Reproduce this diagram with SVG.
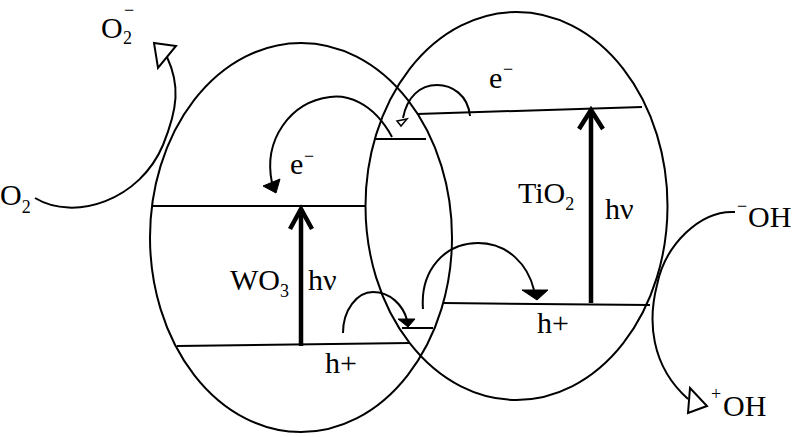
<svg xmlns="http://www.w3.org/2000/svg" width="800" height="437" viewBox="0 0 800 437">
<style>
.sh{fill:none;stroke:#000;stroke-width:2}
.ln{fill:none;stroke:#000;stroke-width:2}
.hv{fill:none;stroke:#000;stroke-width:4.5}
.t{font-family:"Liberation Serif","Times New Roman",serif;font-size:30px;fill:#000}
.s{font-size:18px}
.open{fill:#fff;stroke:#000;stroke-width:2;stroke-linejoin:miter}
.fill{fill:#000;stroke:#000;stroke-width:1}
</style>
<rect width="800" height="437" fill="#fff"/>
<g id="wo3">
<ellipse class="sh" cx="301" cy="237.5" rx="151" ry="194.5"/>
<line class="ln" x1="152" y1="206" x2="366" y2="206"/>
<line class="ln" x1="177" y1="346" x2="410" y2="343"/>
<line class="ln" x1="375" y1="139" x2="426" y2="139"/>
<line class="ln" x1="402" y1="328" x2="433" y2="328"/>
<line class="hv" x1="301" y1="346" x2="301" y2="210"/>
<polyline class="hv" points="290,229 301,209 312,229"/>
<text class="t" x="230" y="290">WO<tspan class="s" dy="7">3</tspan></text>
<text class="t" x="308" y="290">hν</text>
<text class="t" x="325" y="373">h+</text>
</g>
<g id="tio2">
<ellipse class="sh" cx="516.5" cy="206" rx="151" ry="194"/>
<line class="ln" x1="417" y1="114" x2="642" y2="107"/>
<line class="ln" x1="443" y1="303" x2="650" y2="305"/>
<line class="hv" x1="591" y1="303" x2="591" y2="111"/>
<polyline class="hv" points="579,129 591,110 603,129"/>
<text class="t" x="518" y="203">TiO<tspan class="s" dy="7">2</tspan></text>
<text class="t" x="605" y="219">hν</text>
<text class="t" x="537" y="333">h+</text>
</g>
<g id="o2">
<text class="t" x="0" y="205">O<tspan class="s" dy="8">2</tspan></text>
</g>
<g id="o2minus">
<text class="t" x="101" y="38">O</text>
<text class="t s" x="123" y="44">2</text>
<text class="t s" x="124" y="16">−</text>
</g>
<g id="e-left">
<text class="t" x="290" y="174">e</text>
<text class="t s" x="304" y="162">−</text>
</g>
<g id="e-top">
<text class="t" x="489" y="88">e</text>
<text class="t s" x="503" y="75">−</text>
</g>
<g id="oh-minus">
<text class="t s" x="737" y="212">−</text>
<text class="t" x="748" y="227">OH</text>
</g>
<g id="oh-plus">
<text class="t s" x="711" y="400">+</text>
<text class="t" x="723" y="416">OH</text>
</g>
<g id="connectors">
<path class="ln" d="M35,198 C75,222 140,200 163,145 C178,108 180,85 167,57"/>
<polygon class="open" points="154,43 176,46 158,68"/>
<path class="ln" d="M735,212 C700,210 665,245 657,285 C648,320 650,365 688,399"/>
<polygon class="open" points="690,388 707,406 688,413"/>
<path class="ln" d="M392,137 C372,100 345,95 330,97 C290,102 263,140 272,183"/>
<polygon class="fill" points="263,186 280,179 276,193"/>
<path class="ln" d="M470,116 C468,95 452,85 437,85 C420,85 407,97 403,118"/>
<polygon class="open" style="stroke-width:1.5" points="397,121 407,119 401,126"/>
<path class="ln" d="M343,333 C343,310 357,292 373,292 C390,292 403,305 407,320"/>
<polygon class="fill" points="398,319 415,319 408,327"/>
<path class="ln" d="M423,309 C420,270 445,243 478,243 C508,243 528,265 534,290"/>
<polygon class="fill" points="522,290 548,290 537,300"/>
</g>
</svg>
